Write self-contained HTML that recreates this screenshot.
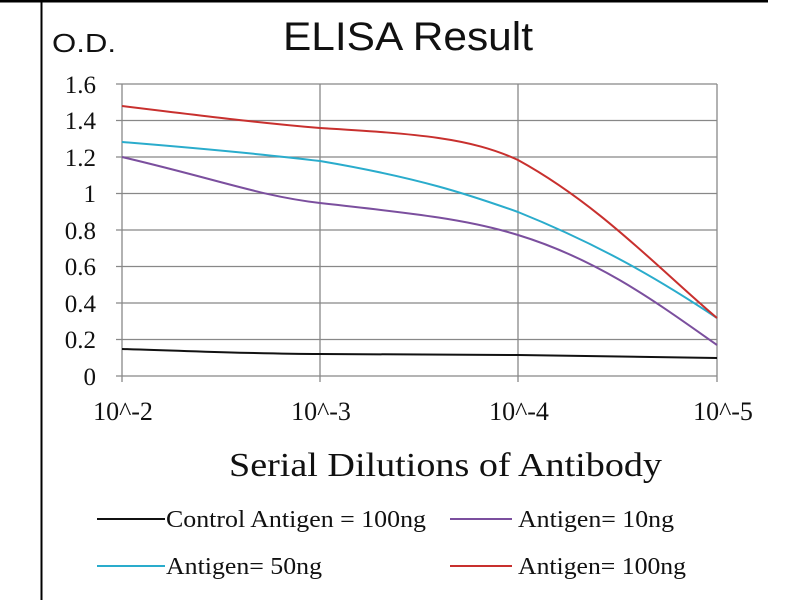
<!DOCTYPE html>
<html><head><style>
html,body{margin:0;padding:0;background:#fff;}
svg{display:block;}
</style></head><body>
<svg width="800" height="600" xmlns="http://www.w3.org/2000/svg">
<rect x="0" y="0" width="800" height="600" fill="#fff"/>
<line x1="0" y1="1" x2="768" y2="1" stroke="#000" stroke-width="3"/>
<line x1="41.5" y1="0" x2="41.5" y2="600" stroke="#000" stroke-width="2"/>
<text x="283" y="50" font-family="Liberation Sans, sans-serif" font-size="40" textLength="250" lengthAdjust="spacingAndGlyphs" fill="#111">ELISA Result</text>
<text x="52" y="52" font-family="Liberation Sans, sans-serif" font-size="26" textLength="64" lengthAdjust="spacingAndGlyphs" fill="#111">O.D.</text>
<g stroke="#888" stroke-width="1.3">
<line x1="116" y1="84" x2="717" y2="84"/>
<line x1="116" y1="120.5" x2="717" y2="120.5"/>
<line x1="116" y1="157" x2="717" y2="157"/>
<line x1="116" y1="193.5" x2="717" y2="193.5"/>
<line x1="116" y1="230" x2="717" y2="230"/>
<line x1="116" y1="266.5" x2="717" y2="266.5"/>
<line x1="116" y1="303" x2="717" y2="303"/>
<line x1="116" y1="339.5" x2="717" y2="339.5"/>
<line x1="116" y1="376" x2="717" y2="376"/>
<line x1="122" y1="84" x2="122" y2="382"/>
<line x1="320" y1="84" x2="320" y2="382"/>
<line x1="518" y1="84" x2="518" y2="382"/>
<line x1="717" y1="84" x2="717" y2="382"/>
</g>
<g font-family="Liberation Serif, serif" font-size="25" fill="#111" text-anchor="end">
<text x="96" y="93">1.6</text><text x="96" y="129">1.4</text><text x="96" y="166">1.2</text>
<text x="96" y="202">1</text><text x="96" y="239">0.8</text><text x="96" y="275">0.6</text>
<text x="96" y="312">0.4</text><text x="96" y="348">0.2</text><text x="96" y="385">0</text>
</g>
<g font-family="Liberation Serif, serif" font-size="26" fill="#111" text-anchor="middle">
<text x="123" y="420">10^-2</text><text x="321" y="420">10^-3</text>
<text x="519" y="420">10^-4</text><text x="723" y="420">10^-5</text>
</g>
<text x="229" y="476" font-family="Liberation Serif, serif" font-size="34" textLength="433" lengthAdjust="spacingAndGlyphs" fill="#111">Serial Dilutions of Antibody</text>
<g fill="none" stroke-width="2">
<path d="M122,349 C220,352 260,354 320,354 C420,355 470,355 518,355 C620,356 680,358 717,358" stroke="#111"/>
<path d="M122,157 C220,180 260,196 320,203 C420,214 470,220 518,235 C600,260 660,305 717,345" stroke="#7b4f9e"/>
<path d="M122,142 C220,150 270,155 320,161 C420,178 470,195 518,212 C600,245 660,280 717,318" stroke="#2aaccc"/>
<path d="M122,106 C220,118 270,124 320,128 C420,134 470,138 518,160 C600,205 660,270 717,318" stroke="#c8302e"/>
</g>
<g stroke-width="2">
<line x1="97" y1="519" x2="165" y2="519" stroke="#111"/>
<line x1="450" y1="519" x2="512" y2="519" stroke="#7b4f9e"/>
<line x1="97" y1="566" x2="165" y2="566" stroke="#2aaccc"/>
<line x1="450" y1="566" x2="512" y2="566" stroke="#c8302e"/>
</g>
<g font-family="Liberation Serif, serif" font-size="24" fill="#111" lengthAdjust="spacingAndGlyphs">
<text x="166" y="527" textLength="260" lengthAdjust="spacingAndGlyphs">Control Antigen = 100ng</text>
<text x="518" y="527" textLength="156" lengthAdjust="spacingAndGlyphs">Antigen= 10ng</text>
<text x="166" y="574" textLength="156" lengthAdjust="spacingAndGlyphs">Antigen= 50ng</text>
<text x="518" y="574" textLength="168" lengthAdjust="spacingAndGlyphs">Antigen= 100ng</text>
</g>
</svg>
</body></html>
